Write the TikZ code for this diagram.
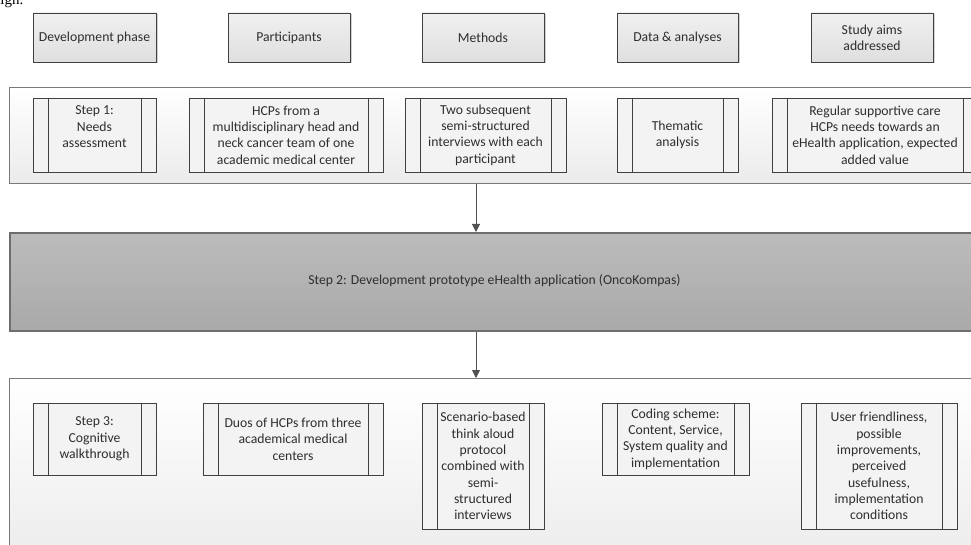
\documentclass[tikz,border=0pt]{standalone}
\usepackage{fontspec}
\setmainfont{Carlito}
\newfontfamily\capfont{Liberation Serif}
\usetikzlibrary{shadows,arrows.meta}
\definecolor{ln}{HTML}{404040}
\definecolor{arrc}{HTML}{505050}
\definecolor{txt}{HTML}{2E2E2E}
\definecolor{contline}{HTML}{7A7A7A}
\definecolor{barline}{HTML}{6E6E6E}
\definecolor{bartop}{HTML}{BCBCBC}
\definecolor{barbot}{HTML}{A9A9A9}
\definecolor{hdrtop}{HTML}{F0F0F0}
\definecolor{hdrbot}{HTML}{DFDFDF}
\definecolor{boxfill}{HTML}{F3F3F3}
\definecolor{contbot}{HTML}{EBEBEB}
\tikzset{
  hdr/.style={draw=ln, line width=0.9pt, top color=hdrtop, bottom color=hdrbot,
    drop shadow={shadow xshift=1.5pt, shadow yshift=-1.5pt, opacity=0.35},
    align=center, text=txt, inner sep=0pt},
  cont/.style={draw=contline, line width=1.3pt, top color=white, bottom color=contbot,
    inner sep=0pt, anchor=north west},
  bar/.style={draw=barline, line width=1.6pt, top color=bartop, bottom color=barbot,
    inner sep=0pt, anchor=north west, text=txt},
  proc/.style={draw=ln, line width=0.8pt, fill=boxfill, align=center, text=txt, inner sep=0pt,
    drop shadow={shadow xshift=1pt, shadow yshift=-1pt, opacity=0.2},
    path picture={\draw[ln, line width=0.8pt]
      ([xshift=15pt]path picture bounding box.north west) -- ([xshift=15pt]path picture bounding box.south west)
      ([xshift=-15pt]path picture bounding box.north east) -- ([xshift=-15pt]path picture bounding box.south east);}},
  arr/.style={draw=arrc, line width=1pt, -{Triangle[length=8pt,width=8pt]}}
}
\begin{document}
\begin{tikzpicture}[x=1pt,y=-1pt, font=\fontsize{13.7}{16.3}\selectfont]
\useasboundingbox (0,0) rectangle (971,545);
\clip (0,0) rectangle (971,545);
\fill[white] (0,0) rectangle (971,545);

% partial caption text at top-left (cut off in the reference too)
\node[anchor=base east, inner sep=0pt, font=\capfont\fontsize{15}{15}\selectfont] (cap) at (23.5,5) {ign.};

% header boxes
\node[hdr, minimum width=123pt, minimum height=49pt] (h1) at (94.5,37.5) {Development phase};
\node[hdr, minimum width=122pt, minimum height=49pt] (h2) at (289,37.5) {Participants};
\node[hdr, minimum width=122pt, minimum height=49pt] (h3) at (483,37.5) {Methods};
\node[hdr, minimum width=121pt, minimum height=49pt] (h4) at (677.5,37.5) {Data \& analyses};
\node[hdr, minimum width=122pt, minimum height=49pt] (h5) at (872,37.5) {Study aims\\addressed};

% containers
\node[cont, minimum width=971pt, minimum height=96pt] (c1) at (9,87) {};
\node[bar, minimum width=971pt, minimum height=98pt] (c2) at (9,232) {};
\node[text=txt] (c2t) at (494.5,281) {Step 2: Development prototype eHealth application (OncoKompas)};
\node[cont, minimum width=971pt, minimum height=190pt] (c3) at (9,378) {};

% arrows
\coordinate (ax) at (476,0);
\draw[arr] (c1.south -| ax) -- (c2.north -| ax);
\draw[arr] (c2.south -| ax) -- (c3.north -| ax);

% row 1
\node[proc, minimum width=123pt, minimum height=74pt] (b1) at (94.5,135) {Step 1:\\Needs\\assessment\\\mbox{}};
\node[proc, minimum width=194pt, minimum height=74pt] (b2) at (286,135) {HCPs from a\\multidisciplinary head and\\neck cancer team of one\\academic medical center};
\node[proc, minimum width=161pt, minimum height=74pt] (b3) at (485.5,135) {Two subsequent\\semi-structured\\interviews with each\\participant};
\node[proc, minimum width=121pt, minimum height=74pt] (b4) at (677.5,135) {Thematic\\analysis};
\node[proc, minimum width=206pt, minimum height=74pt] (b5) at (875,135) {Regular supportive care\\HCPs needs towards an\\eHealth application, expected\\added value};

% row 3
\node[proc, minimum width=123pt, minimum height=72pt] (d1) at (94.5,439) {Step 3:\\Cognitive\\walkthrough};
\node[proc, minimum width=180pt, minimum height=72pt] (d2) at (293,439) {Duos of HCPs from three\\academical medical\\centers};
\node[proc, minimum width=122pt, minimum height=126pt] (d3) at (483,466) {Scenario-based\\think aloud\\protocol\\combined with\\semi-\\structured\\interviews};
\node[proc, minimum width=147pt, minimum height=72pt] (d4) at (675.5,439) {Coding scheme:\\Content, Service,\\System quality and\\implementation};
\node[proc, minimum width=156pt, minimum height=126pt] (d5) at (879,466) {User friendliness,\\possible\\improvements,\\perceived\\usefulness,\\implementation\\conditions};
\end{tikzpicture}
\end{document}
